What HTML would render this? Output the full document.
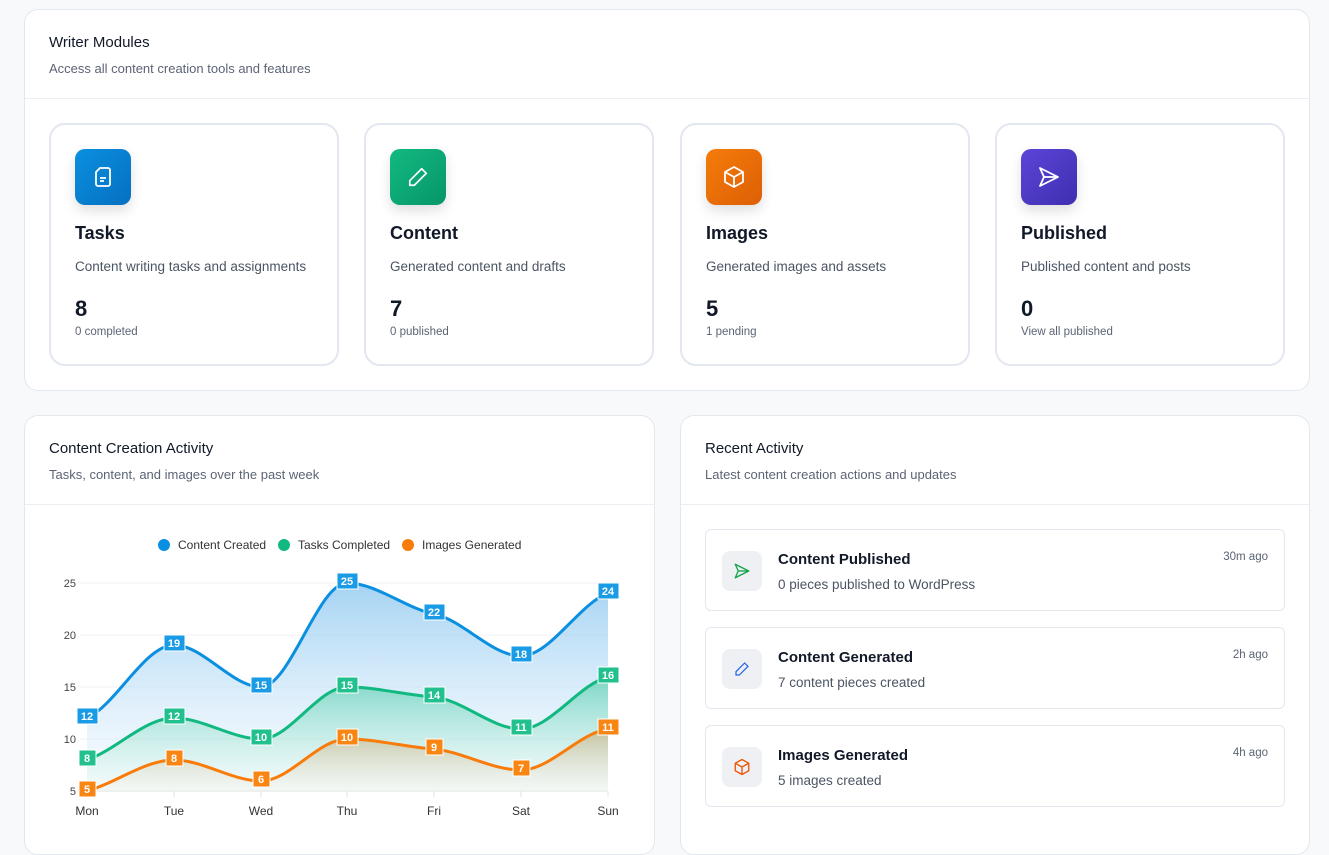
<!DOCTYPE html><html><head><style>
*{box-sizing:border-box;margin:0;padding:0}
body{width:1329px;height:829px;overflow:hidden;background:#f8f9fb;font-family:"Liberation Sans",sans-serif;color:#111827;position:relative}
.panel{position:absolute;background:#fff;border:1px solid #e3e7ee;border-radius:14px}
.ph{position:absolute;left:24px;font-size:15px;color:#111827}
.ps{position:absolute;left:24px;font-size:13px;color:#5b6475}
.hl{position:absolute;left:0;right:0;height:1px;background:#eceef2}
.card{position:absolute;top:113px;width:290px;height:243px;border:2px solid #e2e7f0;border-radius:16px;background:#fff}
.ic{position:absolute;left:24px;top:24px;width:56px;height:56px;border-radius:10px;box-shadow:0 6px 12px rgba(0,0,0,.12);display:flex;align-items:center;justify-content:center}
.ct{position:absolute;left:24px;top:98px;font-size:18px;font-weight:bold}
.cd{position:absolute;left:24px;top:134px;font-size:13.5px;color:#4b5563}
.cn{position:absolute;left:24px;top:171px;font-size:22px;font-weight:bold}
.cs{position:absolute;left:24px;top:201px;font-size:11.5px;color:#5b6475}
.item{position:absolute;left:24px;width:580px;height:82px;border:1px solid #e3e7ee;border-radius:6px}
.ii{position:absolute;left:16px;top:21px;width:40px;height:40px;border-radius:8px;background:#eef0f4;display:flex;align-items:center;justify-content:center}
.it{position:absolute;left:72px;top:21px;font-size:15px;font-weight:bold}
.is{position:absolute;left:72px;top:47px;font-size:13.5px;color:#4b5563}
.tm{position:absolute;right:16px;top:21px;font-size:11.5px;color:#5b6475}
</style></head><body>
<div class="panel" style="left:24px;top:9px;width:1286px;height:382px">
<div class="ph" style="top:24px">Writer Modules</div>
<div class="ps" style="top:51px">Access all content creation tools and features</div>
<div class="hl" style="top:88px"></div>
<div class="card" style="left:24px"><div class="ic" style="background:linear-gradient(135deg,#0b8fe0,#0670c0)"><svg width="24" height="24" viewBox="0 0 24 24" fill="none" stroke="#fff" stroke-width="1.8" stroke-linejoin="round"><path d="M9 3h8a2 2 0 0 1 2 2v14a2 2 0 0 1-2 2H7a2 2 0 0 1-2-2V7z"/><path d="M9 13h6M9 16h4"/></svg></div><div class="ct">Tasks</div><div class="cd">Content writing tasks and assignments</div><div class="cn">8</div><div class="cs">0 completed</div></div>
<div class="card" style="left:339px"><div class="ic" style="background:linear-gradient(135deg,#13b981,#069669)"><svg width="22" height="22" viewBox="0 0 24 24" fill="none" stroke="#fff" stroke-width="1.8"><path d="M16 3l5 5L8 21H3v-5z"/></svg></div><div class="ct">Content</div><div class="cd">Generated content and drafts</div><div class="cn">7</div><div class="cs">0 published</div></div>
<div class="card" style="left:655px"><div class="ic" style="background:linear-gradient(135deg,#f57c0a,#dd5f05)"><svg width="24" height="24" viewBox="0 0 24 24" fill="none" stroke="#fff" stroke-width="1.8" stroke-linejoin="round"><path d="M12 2l9 5v10l-9 5-9-5V7z"/><path d="M3 7l9 5 9-5M12 12v10"/></svg></div><div class="ct">Images</div><div class="cd">Generated images and assets</div><div class="cn">5</div><div class="cs">1 pending</div></div>
<div class="card" style="left:970px"><div class="ic" style="background:linear-gradient(135deg,#5b45d8,#3f2fb0)"><svg width="24" height="24" viewBox="0 0 24 24" fill="none" stroke="#fff" stroke-width="1.8" stroke-linejoin="round"><path d="M3 3l18 9-18 9 4-9z"/><path d="M7 12h14"/></svg></div><div class="ct">Published</div><div class="cd">Published content and posts</div><div class="cn">0</div><div class="cs">View all published</div></div>
</div>

<div class="panel" style="left:24px;top:415px;width:631px;height:440px">
<div class="ph" style="top:24px">Content Creation Activity</div>
<div class="ps" style="top:51px">Tasks, content, and images over the past week</div>
<div class="hl" style="top:88px"></div>
</div>
<div class="panel" style="left:680px;top:415px;width:630px;height:440px">
<div class="ph" style="top:24px">Recent Activity</div>
<div class="ps" style="top:51px">Latest content creation actions and updates</div>
<div class="hl" style="top:88px"></div>
<div class="item" style="top:113px"><div class="ii"><svg width="18" height="18" viewBox="0 0 24 24" fill="none" stroke="#16a34a" stroke-width="1.8" stroke-linejoin="round"><path d="M3 3l18 9-18 9 4-9z"/><path d="M7 12h14"/></svg></div><div class="it">Content Published</div><div class="is">0 pieces published to WordPress</div><div class="tm">30m ago</div></div>
<div class="item" style="top:211px"><div class="ii"><svg width="16" height="16" viewBox="0 0 24 24" fill="none" stroke="#2563eb" stroke-width="1.8"><path d="M16 3l5 5L8 21H3v-5z"/></svg></div><div class="it">Content Generated</div><div class="is">7 content pieces created</div><div class="tm">2h ago</div></div>
<div class="item" style="top:309px"><div class="ii"><svg width="18" height="18" viewBox="0 0 24 24" fill="none" stroke="#ea580c" stroke-width="1.8" stroke-linejoin="round"><path d="M12 2l9 5v10l-9 5-9-5V7z"/><path d="M3 7l9 5 9-5M12 12v10"/></svg></div><div class="it">Images Generated</div><div class="is">5 images created</div><div class="tm">4h ago</div></div>
</div>

<svg style="position:absolute;left:0;top:0" width="1329" height="829" font-family="Liberation Sans, sans-serif">
<defs>
<linearGradient id="gb" x1="0" y1="0" x2="0" y2="1"><stop offset="0" stop-color="#8ec8f0" stop-opacity=".8"/><stop offset="1" stop-color="#e6f3fd" stop-opacity=".3"/></linearGradient>
<linearGradient id="gg" x1="0" y1="0" x2="0" y2="1"><stop offset="0" stop-color="#34c79a" stop-opacity=".55"/><stop offset="1" stop-color="#e0f6ee" stop-opacity=".2"/></linearGradient>
<linearGradient id="go" x1="0" y1="0" x2="0" y2="1"><stop offset="0" stop-color="#c9a063" stop-opacity=".55"/><stop offset="1" stop-color="#f3ece0" stop-opacity=".2"/></linearGradient>
</defs>
<g font-size="12" fill="#333">
<circle cx="164" cy="545" r="6" fill="#0b8fe0"/><text x="178" y="549">Content Created</text>
<circle cx="284" cy="545" r="6" fill="#11b981"/><text x="298" y="549">Tasks Completed</text>
<circle cx="408" cy="545" r="6" fill="#f97c0a"/><text x="422" y="549">Images Generated</text>
</g>
<g stroke="#f0f1f4"><line x1="80" x2="608" y1="583" y2="583"/><line x1="80" x2="608" y1="635" y2="635"/><line x1="80" x2="608" y1="687" y2="687"/><line x1="80" x2="608" y1="739" y2="739"/></g>
<line x1="80" x2="608" y1="791" y2="791" stroke="#e0e0e0"/>
<g stroke="#e0e0e0"><line x1="174" x2="174" y1="791" y2="797"/><line x1="261" x2="261" y1="791" y2="797"/><line x1="347" x2="347" y1="791" y2="797"/><line x1="434" x2="434" y1="791" y2="797"/><line x1="521" x2="521" y1="791" y2="797"/><line x1="608" x2="608" y1="791" y2="797"/></g>
<g font-size="11" fill="#444" text-anchor="end"><text x="76" y="587">25</text><text x="76" y="639">20</text><text x="76" y="691">15</text><text x="76" y="743">10</text><text x="76" y="795">5</text></g>
<g font-size="12" fill="#333" text-anchor="middle"><text x="87" y="815">Mon</text><text x="174" y="815">Tue</text><text x="261" y="815">Wed</text><text x="347" y="815">Thu</text><text x="434" y="815">Fri</text><text x="521" y="815">Sat</text><text x="608" y="815">Sun</text></g>
<path d="M87 718 C116 705,145 645,174 645 C203 645,232 687,261 687 C290 687,318 583,347 583 C376 583,405 608,434 614 C463 620,492 656,521 656 C550 656,579 604,608 593 L608 791 L87 791Z" fill="url(#gb)"/>
<path d="M87 760 C116 750,145 718,174 718 C203 718,232 739,261 739 C290 739,318 687,347 687 C376 687,405 695,434 697 C463 700,492 729,521 729 C550 729,579 684,608 677 L608 791 L87 791Z" fill="url(#gg)"/>
<path d="M87 791 C116 783,145 760,174 760 C203 760,232 781,261 781 C290 781,318 739,347 739 C376 739,405 747,434 749 C463 752,492 770,521 770 C550 770,579 733,608 729 L608 791 L87 791Z" fill="url(#go)"/>
<g fill="none" stroke-width="3">
<path d="M87 718 C116 705,145 645,174 645 C203 645,232 687,261 687 C290 687,318 583,347 583 C376 583,405 608,434 614 C463 620,492 656,521 656 C550 656,579 604,608 593" stroke="#0b8fe0"/>
<path d="M87 760 C116 750,145 718,174 718 C203 718,232 739,261 739 C290 739,318 687,347 687 C376 687,405 695,434 697 C463 700,492 729,521 729 C550 729,579 684,608 677" stroke="#11b981"/>
<path d="M87 791 C116 783,145 760,174 760 C203 760,232 781,261 781 C290 781,318 739,347 739 C376 739,405 747,434 749 C463 752,492 770,521 770 C550 770,579 733,608 729" stroke="#f97c0a"/>
</g>
<g font-size="11" font-weight="bold" fill="#fff" text-anchor="middle">
<g stroke="#fff" stroke-width="1">
<rect x="77" y="708" width="21" height="16" fill="#1a9be6"/><rect x="164" y="635" width="21" height="16" fill="#1a9be6"/><rect x="251" y="677" width="21" height="16" fill="#1a9be6"/><rect x="337" y="573" width="21" height="16" fill="#1a9be6"/><rect x="424" y="604" width="21" height="16" fill="#1a9be6"/><rect x="511" y="646" width="21" height="16" fill="#1a9be6"/><rect x="598" y="583" width="21" height="16" fill="#1a9be6"/>
<rect x="79" y="750" width="17" height="16" fill="#22c08e"/><rect x="164" y="708" width="21" height="16" fill="#22c08e"/><rect x="251" y="729" width="21" height="16" fill="#22c08e"/><rect x="337" y="677" width="21" height="16" fill="#22c08e"/><rect x="424" y="687" width="21" height="16" fill="#22c08e"/><rect x="511" y="719" width="21" height="16" fill="#22c08e"/><rect x="598" y="667" width="21" height="16" fill="#22c08e"/>
<rect x="79" y="781" width="17" height="16" fill="#f98513"/><rect x="166" y="750" width="17" height="16" fill="#f98513"/><rect x="253" y="771" width="17" height="16" fill="#f98513"/><rect x="337" y="729" width="21" height="16" fill="#f98513"/><rect x="426" y="739" width="17" height="16" fill="#f98513"/><rect x="513" y="760" width="17" height="16" fill="#f98513"/><rect x="598" y="719" width="21" height="16" fill="#f98513"/>
</g>
<text x="87" y="720">12</text><text x="174" y="647">19</text><text x="261" y="689">15</text><text x="347" y="585">25</text><text x="434" y="616">22</text><text x="521" y="658">18</text><text x="608" y="595">24</text>
<text x="87" y="762">8</text><text x="174" y="720">12</text><text x="261" y="741">10</text><text x="347" y="689">15</text><text x="434" y="699">14</text><text x="521" y="731">11</text><text x="608" y="679">16</text>
<text x="87" y="793">5</text><text x="174" y="762">8</text><text x="261" y="783">6</text><text x="347" y="741">10</text><text x="434" y="751">9</text><text x="521" y="772">7</text><text x="608" y="731">11</text>
</g>
</svg>
</body></html>
